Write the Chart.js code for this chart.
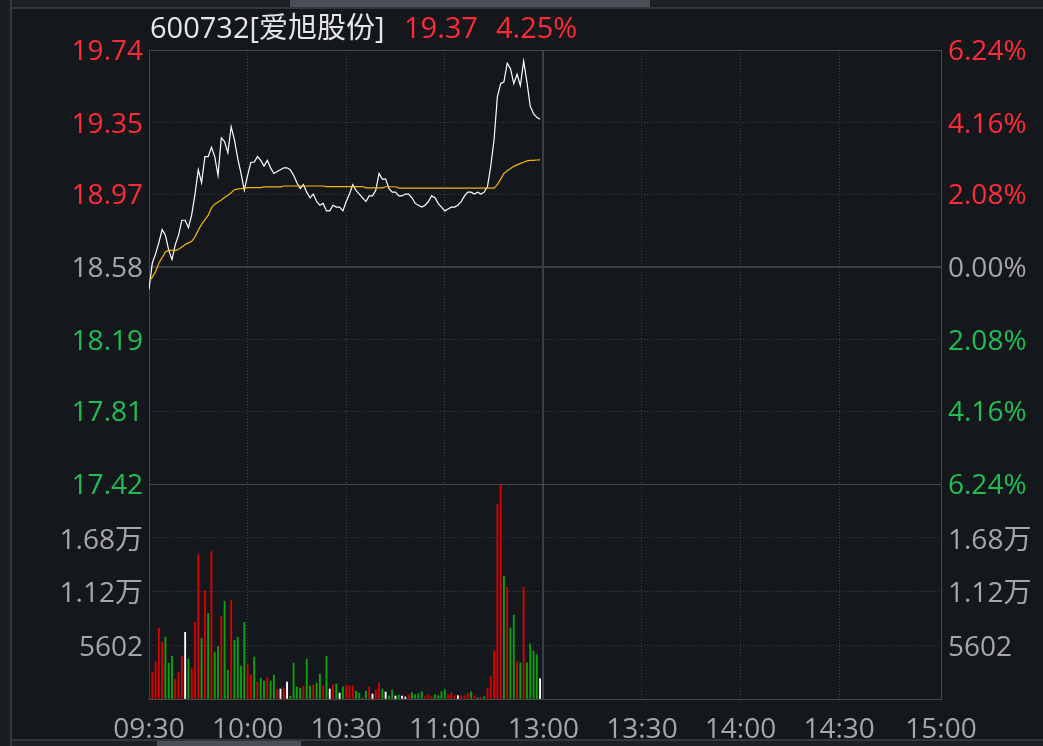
<!DOCTYPE html>
<html>
<head>
<meta charset="utf-8">
<script src="https://cdn.jsdelivr.net/npm/chart.js@4.4.1/dist/chart.umd.min.js"></script>
<style>
html,body{margin:0;padding:0;background:#14171c;}
#wrap{position:relative;width:1043px;height:746px;overflow:hidden;background:#14171c;}
canvas{position:absolute;left:0;top:0;}
.hd{position:absolute;top:11px;font-family:'Open Sans','Noto Sans CJK SC',sans-serif;font-size:29px;line-height:32px;white-space:nowrap;}
.deco{position:absolute;}
</style>
</head>
<body>
<div id="wrap">
  <div class="deco" style="left:0;top:0;width:10px;height:746px;background:#1a1d22;"></div>
  <div class="deco" style="left:10px;top:0;width:2px;height:746px;background:#34373c;"></div>
  <div class="deco" style="left:12px;top:0;width:1031px;height:7px;background:#1d2025;"></div>
  <div class="deco" style="left:12px;top:7px;width:1031px;height:2px;background:#33363b;"></div>
  <div class="deco" style="left:290px;top:0;width:360px;height:7px;background:#4b4e54;"></div>
  <div class="deco" style="left:12px;top:739px;width:1031px;height:2px;background:#33363b;"></div>
  <div class="deco" style="left:12px;top:741px;width:1031px;height:5px;background:#1d2025;"></div>
  <div class="deco" style="left:157px;top:741px;width:144px;height:5px;background:#4b4e54;"></div>
  <canvas id="cPrice" width="1043" height="746"></canvas>
  <canvas id="cVol" width="1043" height="746"></canvas>
  <div class="hd" id="tName" style="left:150px;color:#e6e6e6;"></div>
  <div class="hd" id="tPrice" style="left:404px;color:#ff2b38;"></div>
  <div class="hd" id="tPct" style="left:496px;color:#ff2b38;"></div>
</div>
<script>
// ---- texts ----
const stockName = '600732[爱旭股份]';
const lastPriceText = '19.37';
const lastPctText = '4.25%';

// ---- axes ----
const timeLabels = ['09:30','10:00','10:30','11:00','13:00','13:30','14:00','14:30','15:00'];
const timeTickValues = [0, 30, 60, 90, 120, 150, 180, 210, 241];
const priceTicks = [17.42, 17.81, 18.19, 18.58, 18.97, 19.35, 19.74];
const pctLabels = ['6.24%', '4.16%', '2.08%', '0.00%', '2.08%', '4.16%', '6.24%'];
const volTicks = [5602, 11204, 16806];
const volTickLabels = ['5602', '1.12万', '1.68万'];
const volMax = 22408;

// ---- series (one value per minute from 09:30) ----
const prices = [
  18.46,18.60,18.65,18.71,18.78,18.75,18.67,18.62,18.70,18.75,
  18.83,18.83,18.79,18.86,18.97,19.10,19.03,19.17,19.17,19.22,
  19.17,19.07,19.27,19.25,19.19,19.33,19.26,19.16,19.08,18.99,
  19.07,19.14,19.14,19.17,19.15,19.12,19.15,19.11,19.08,19.09,
  19.10,19.11,19.11,19.10,19.07,19.03,19.00,19.02,18.98,18.95,
  18.97,18.93,18.91,18.92,18.88,18.88,18.91,18.90,18.90,18.88,
  18.93,18.97,19.02,18.99,18.97,18.95,18.93,18.96,18.96,18.99,
  19.08,19.05,19.05,19.00,18.98,18.98,18.96,18.96,18.97,18.97,
  18.95,18.92,18.91,18.90,18.91,18.93,18.96,18.95,18.92,18.90,
  18.88,18.89,18.90,18.90,18.91,18.93,18.96,18.98,18.98,18.97,
  18.98,18.97,18.98,19.01,19.12,19.26,19.49,19.56,19.57,19.67,
  19.64,19.56,19.61,19.55,19.68,19.57,19.44,19.40,19.38,19.37
];
const avgPrices = [
  18.505,18.525,18.555,18.600,18.630,18.660,18.670,18.669,18.668,18.675,
  18.687,18.700,18.709,18.717,18.741,18.777,18.808,18.833,18.856,18.896,
  18.916,18.928,18.938,18.952,18.963,18.977,18.993,18.998,18.999,19.001,
  19.004,19.004,19.004,19.004,19.004,19.008,19.008,19.008,19.008,19.008,
  19.008,19.013,19.013,19.013,19.013,19.013,19.013,19.013,19.013,19.013,
  19.013,19.013,19.013,19.013,19.010,19.010,19.010,19.010,19.010,19.010,
  19.010,19.010,19.010,19.010,19.010,19.010,19.003,19.003,19.003,19.003,
  19.003,19.003,19.009,19.009,19.009,19.009,19.002,19.002,19.002,19.002,
  19.002,19.002,19.002,19.002,19.002,19.002,19.002,19.002,19.002,19.002,
  19.002,19.002,19.002,19.002,19.002,19.002,19.002,19.002,19.002,19.002,
  19.002,19.002,19.002,19.002,19.002,19.002,19.020,19.050,19.080,19.095,
  19.107,19.118,19.126,19.134,19.140,19.147,19.150,19.150,19.152,19.153
];
const volumes = [
  7160,2800,3840,7370,5920,6440,3740,4460,2080,2800,
  4460,6950,4150,3220,7990,15050,6330,11310,8930,15360,
  4880,5500,8620,10170,3010,10280,6120,6440,3430,7990,
  3630,2490,4360,1760,2180,1870,2280,1870,2490,930,
  1040,1140,1760,310,3740,1250,1140,1350,4150,1350,
  1450,1660,2600,1350,4460,1040,1450,1560,620,1250,
  1450,1350,1350,830,620,100,830,1250,520,930,
  1660,1040,730,310,930,310,410,310,210,450,
  660,450,550,760,240,450,240,450,350,760,
  970,450,660,350,350,350,350,550,760,350,
  140,140,240,1070,2320,5010,20260,22330,12790,11650,
  7400,8750,3870,3770,11650,3770,5740,5010,4600,2110
];
// r = up, g = down, w = unchanged
const volDirections = (
  'rrrrrgggrr' + 'rwgrrrgrgr' + 'ggrggrgggg' + 'rrgrggrggr' +
  'wrwggggrgg' + 'rggrgwrgwg' + 'rrrggggrwr' + 'rgwggwgwwr' +
  'ggggrrrggg' + 'grrrwrrrgr' + 'grgrrrrrgr' + 'ggrgrggggw'
).split('');

// ---- styles ----
const RED = '#ff2b38', GREEN = '#1fbf55', GRAY = '#a6a6a6', XGRAY = '#a3a7ad';
const DOT = '#3d4046', FRAME = '#45484d', SOLID = '#3b3e44';
const BAR_COL = { r: '#dc0000', g: '#0ca40c', w: '#ffffff' };
const FONT = "'Open Sans','Noto Sans CJK SC',sans-serif";

document.getElementById('tName').textContent = stockName;
document.getElementById('tPrice').textContent = lastPriceText;
document.getElementById('tPct').textContent = lastPctText;

Chart.defaults.font.family = FONT;
Chart.defaults.font.size = 28;

const pts = arr => arr.map((v, i) => ({ x: i, y: v }));
const priceColor = i => i < 3 ? GREEN : (i === 3 ? GRAY : RED);
const xGridColor = c => (c.tick && (c.tick.value === 0 || c.tick.value === 120 || c.tick.value === 241)) ? 'rgba(0,0,0,0)' : DOT;

function framePlugin(yKey, solidValues) {
  return {
    id: 'frame',
    beforeDatasetsDraw(chart) {
      const { ctx, chartArea: a, scales } = chart;
      ctx.save();
      const L = Math.round(a.left), R = Math.round(a.right), T = Math.round(a.top), B = Math.round(a.bottom);
      ctx.strokeStyle = SOLID; ctx.lineWidth = 2;
      const xs = Math.round(scales.x.getPixelForValue(120));
      ctx.beginPath(); ctx.moveTo(xs, T); ctx.lineTo(xs, B); ctx.stroke();
      solidValues.forEach(v => {
        const y = Math.round(scales[yKey].getPixelForValue(v));
        ctx.beginPath(); ctx.moveTo(L, y); ctx.lineTo(R, y); ctx.stroke();
      });
      ctx.strokeStyle = FRAME; ctx.lineWidth = 1;
      ctx.strokeRect(L + 0.5, T + 0.5, R - L, B - T);
      ctx.restore();
    }
  };
}

// ---- price chart ----
new Chart(document.getElementById('cPrice'), {
  type: 'line',
  data: {
    datasets: [
      { data: pts(avgPrices), xAxisID: 'x', yAxisID: 'y', borderColor: '#f5b60a', borderWidth: 1.2, pointRadius: 0, tension: 0 },
      { data: pts(prices), xAxisID: 'x', yAxisID: 'y', borderColor: '#ffffff', borderWidth: 1.2, pointRadius: 0, tension: 0 }
    ]
  },
  options: {
    responsive: false, animation: false, devicePixelRatio: 1, events: [],
    layout: { padding: { top: 50, bottom: 262, left: 0, right: 0 } },
    plugins: { legend: { display: false }, tooltip: { enabled: false } },
    scales: {
      x: {
        type: 'linear', min: 0, max: 241,
        afterBuildTicks: s => { s.ticks = timeTickValues.map(v => ({ value: v })); },
        afterFit: s => { s.height = 0; },
        ticks: { display: false },
        grid: { drawTicks: false, color: xGridColor, lineWidth: 1 },
        border: { display: false, dash: [1, 2] }
      },
      y: {
        position: 'left', min: priceTicks[0], max: priceTicks[priceTicks.length - 1],
        afterBuildTicks: s => { s.ticks = priceTicks.map(v => ({ value: v })); },
        afterFit: s => { s.width = 149; },
        ticks: { padding: 6, labelOffset: 2, color: c => priceColor(c.index), callback: (v, i) => priceTicks[i].toFixed(2) },
        grid: { drawTicks: false, color: c => (c.index === 0 || c.index === 3 || c.index === 6) ? 'rgba(0,0,0,0)' : DOT },
        border: { display: false, dash: [1, 2] }
      },
      y2: {
        position: 'right', min: priceTicks[0], max: priceTicks[priceTicks.length - 1],
        afterBuildTicks: s => { s.ticks = priceTicks.map(v => ({ value: v })); },
        afterFit: s => { s.width = 102; },
        ticks: { padding: 7, labelOffset: 2, color: c => priceColor(c.index), callback: (v, i) => pctLabels[i] },
        grid: { display: false, drawTicks: false },
        border: { display: false }
      }
    }
  },
  plugins: [framePlugin('y', [priceTicks[3]])]
});

// ---- volume chart ----
new Chart(document.getElementById('cVol'), {
  type: 'bar',
  data: {
    datasets: [{
      data: pts(volumes),
      xAxisID: 'x', yAxisID: 'yv',
      backgroundColor: volDirections.map(d => BAR_COL[d]),
      borderWidth: 0,
      barThickness: 1.2
    }]
  },
  options: {
    responsive: false, animation: false, devicePixelRatio: 1, events: [],
    layout: { padding: { top: 484, bottom: 0, left: 0, right: 0 } },
    plugins: { legend: { display: false }, tooltip: { enabled: false } },
    scales: {
      x: {
        type: 'linear', min: 0, max: 241, offset: false,
        afterBuildTicks: s => { s.ticks = timeTickValues.map(v => ({ value: v })); },
        afterFit: s => { s.height = 47; },
        ticks: { padding: 14, color: XGRAY, autoSkip: false, maxRotation: 0, minRotation: 0, callback: (v, i) => timeLabels[i] },
        grid: { drawTicks: false, color: xGridColor, lineWidth: 1, offset: false },
        border: { display: false, dash: [1, 2] }
      },
      yv: {
        position: 'left', min: 0, max: volMax,
        afterBuildTicks: s => { s.ticks = [0].concat(volTicks, [volMax]).map(v => ({ value: v })); },
        afterFit: s => { s.width = 149; },
        ticks: { padding: 6, labelOffset: 3, color: GRAY, callback: (v, i) => (i >= 1 && i <= volTicks.length) ? volTickLabels[i - 1] : '' },
        grid: { drawTicks: false, color: c => (c.index === 0 || c.index === volTicks.length + 1) ? 'rgba(0,0,0,0)' : DOT },
        border: { display: false, dash: [1, 2] }
      },
      yv2: {
        position: 'right', min: 0, max: volMax,
        afterBuildTicks: s => { s.ticks = [0].concat(volTicks, [volMax]).map(v => ({ value: v })); },
        afterFit: s => { s.width = 102; },
        ticks: { padding: 7, labelOffset: 3, color: GRAY, callback: (v, i) => (i >= 1 && i <= volTicks.length) ? volTickLabels[i - 1] : '' },
        grid: { display: false, drawTicks: false },
        border: { display: false }
      }
    }
  },
  plugins: [framePlugin('yv', [])]
});
</script>
</body>
</html>
